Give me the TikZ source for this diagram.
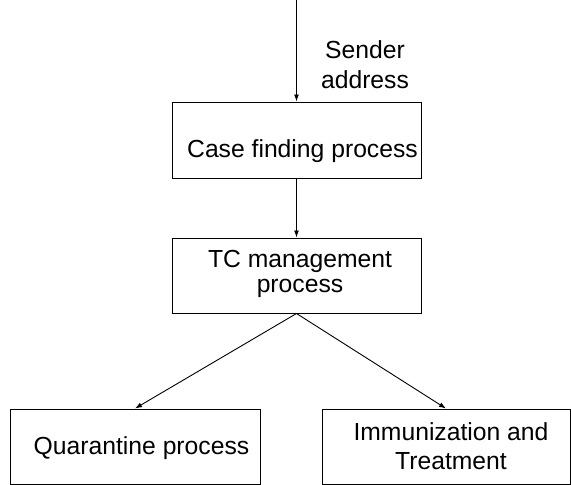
\documentclass[tikz,border=0pt]{standalone}
\usepackage{fontspec}
\setmainfont{Liberation Sans}
\usetikzlibrary{arrows.meta}

\tikzset{
  procbox/.style={draw=black, line width=1pt, rectangle, inner sep=0pt, minimum height=75pt},
  boxtext/.style={anchor=base, align=center, inner sep=0pt, font=\fontsize{24.7}{29}\selectfont},
  flow/.style={draw=black, line width=0.9pt, -{Latex[length=7pt,width=5pt]}}
}

\begin{document}
\begin{tikzpicture}[x=1pt, y=-1pt]
  \useasboundingbox (0,0) rectangle (571,485);

  % process boxes
  \node[procbox, minimum width=249pt, minimum height=76pt] (find) at (296.5,140) {};
  \node[procbox, minimum width=249pt] (tc) at (296.5,275.5) {};
  \node[procbox, minimum width=250pt] (quar) at (135,446.5) {};
  \node[procbox, minimum width=248pt] (imm) at (446,446.5) {};

  % box labels (base anchor sits on the last line's baseline)
  \node[boxtext] (findtxt) at (302.5,157) {Case finding process};
  \node[boxtext, font=\fontsize{24.7}{25}\selectfont] (tctxt) at (300,292.5) {TC management\\process};
  \node[boxtext] (quartxt) at (141.5,454) {Quarantine process};
  \node[boxtext] (immtxt) at (451,469) {Immunization and\\Treatment};

  % incoming input
  \coordinate (src) at (296.5,0);
  \node[boxtext, font=\fontsize{24.7}{30}\selectfont] (sender) at (365,88) {Sender\\address};

  % connectors
  \draw[flow] (src) -- (find.north);
  \draw[flow] (find.south) -- (tc.north);
  \draw[flow] (tc.south) -- (quar.north);
  \draw[flow] (tc.south) -- (imm.north);
\end{tikzpicture}
\end{document}
